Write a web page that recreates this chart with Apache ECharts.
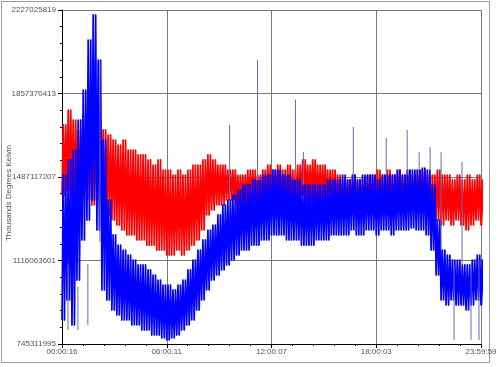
<!DOCTYPE html>
<html><head><meta charset="utf-8">
<script src="https://cdn.jsdelivr.net/npm/echarts@6/dist/echarts.min.js"></script>
<style>html,body{margin:0;padding:0;background:#fff}#c{width:500px;height:367px}</style>
</head><body><div id="c"></div>
<script>
// X axis: seconds of day; Y axis: raw values. Series arrays are in millions.
const xTickLabels = ["00:00:16", "06:00:11", "12:00:07", "18:00:03", "23:59:59"];
const yTickLabels = ["745311995", "1116063601", "1487117207", "1857370413", "2227025819"];
const yTitle = "Thousands Degrees Kelvin";
const xMin = 16, xMax = 86399;
const yMin = 745311995, yMax = 2227025819;
const sampleStart = 16, sampleStep = 1028.37; // one envelope sample per step (seconds)

const redHi = [1717,1783,1739,1695,1761,1739,1717,1739,1695,1672,1650,1628,1650,1606,1606,1584,1584,1562,1539,1562,1517,1517,1495,1517,1495,1517,1539,1539,1562,1584,1562,1539,1539,1517,1517,1495,1495,1517,1517,1495,1517,1539,1517,1539,1517,1539,1517,1539,1562,1539,1562,1539,1539,1517,1517,1495,1473,1473,1495,1473,1473,1495,1495,1517,1495,1517,1495,1517,1495,1517,1495,1517,1517,1495,1495,1517,1495,1495,1473,1495,1473,1495,1473,1495,1473];
const redLo = [1406,1428,1384,1406,1428,1384,1362,1384,1340,1318,1295,1273,1251,1229,1229,1207,1207,1184,1184,1162,1162,1140,1140,1162,1140,1162,1184,1207,1251,1318,1340,1362,1362,1384,1384,1362,1362,1362,1384,1362,1384,1384,1362,1384,1384,1362,1362,1384,1406,1384,1384,1362,1384,1362,1362,1340,1340,1362,1362,1340,1362,1340,1362,1340,1340,1362,1340,1362,1340,1340,1362,1340,1340,1318,1318,1295,1273,1295,1273,1295,1273,1251,1273,1295,1273];
const blueHi = [1495,1562,1606,1739,1872,2094,2205,2005,1650,1384,1229,1184,1162,1140,1118,1096,1096,1074,1051,1029,1007,1007,985,1007,1029,1074,1118,1162,1207,1251,1273,1318,1362,1384,1406,1428,1451,1451,1473,1473,1495,1495,1517,1517,1495,1495,1473,1473,1451,1451,1451,1451,1451,1473,1473,1473,1495,1473,1495,1473,1495,1495,1495,1473,1495,1495,1495,1517,1495,1517,1517,1517,1526,1517,1451,1295,1162,1140,1118,1118,1096,1096,1118,1140,1118];
const blueLo = [852,941,830,1029,1207,1295,1384,1251,985,941,896,874,852,852,830,830,807,807,785,785,772,763,772,785,807,830,852,896,941,985,1029,1051,1074,1096,1118,1140,1162,1162,1184,1184,1207,1207,1229,1229,1229,1207,1207,1207,1184,1184,1184,1207,1207,1207,1229,1229,1229,1229,1251,1229,1229,1251,1251,1229,1251,1251,1229,1251,1251,1251,1260,1251,1251,1229,1162,1051,941,918,941,918,918,896,918,941,918];

// Isolated spikes: time (s), base (millions), tip (millions)
const spikeTimes = [1250, 3300, 5350, 7831, 34569, 40327, 48143, 49788, 60072, 66859, 71178, 73646, 75908, 78171, 82490, 80844, 84341, 85986];
const spikeBase  = [1100, 1000, 1100, 1200, 1400, 1473, 1473, 1451, 1473, 1495, 1495, 1517, 1517, 1162, 1096, 1096, 1096, 1118];
const spikeTip   = [807, 807, 830, 2005, 1717, 2005, 1830, 1597, 1708, 1659, 1695, 1597, 1619, 1597, 1553, 763, 763, 763];

// Each envelope sample is drawn as a fast oscillation between its low and high reading.
const oscPerSample = 2;
function band(lo, hi) {
  const out = [];
  const d = sampleStep / oscPerSample;
  for (let i = 0; i < lo.length; i++) {
    const t = sampleStart + i * sampleStep;
    for (let k = 0; k < oscPerSample; k++) {
      out.push([t + k * d, lo[i] * 1e6]);
      out.push([t + (k + 0.5) * d, hi[i] * 1e6]);
    }
  }
  return out;
}
function spikes() {
  const out = [];
  for (let i = 0; i < spikeTimes.length; i++) {
    out.push([spikeTimes[i], spikeBase[i] * 1e6]);
    out.push([spikeTimes[i], spikeTip[i] * 1e6]);
    out.push('-');
  }
  return out;
}
const xInterval = (xMax - xMin) / 4, yInterval = (yMax - yMin) / 4;
const font = "Liberation Sans";

const chart = echarts.init(document.getElementById('c'), null, {renderer: 'canvas'});
chart.setOption({
  animation: false,
  backgroundColor: '#fff',
  grid: {left: 62, right: 19, top: 10, bottom: 23},
  xAxis: {
    type: 'value', min: xMin, max: xMax, interval: xInterval,
    axisLine: {show: true, lineStyle: {color: '#000', width: 1}},
    axisTick: {show: true, length: 4, lineStyle: {color: '#000'}},
    minorTick: {show: true, splitNumber: 5, length: 2, lineStyle: {color: '#000'}},
    splitLine: {show: true, lineStyle: {color: '#7a7a7a', width: 1}},
    axisLabel: {fontFamily: font, fontSize: 8, color: '#555', margin: 4,
      formatter: v => xTickLabels[Math.round((v - xMin) / xInterval)] || ''}
  },
  yAxis: {
    type: 'value', min: yMin, max: yMax, interval: yInterval,
    axisLine: {show: true, lineStyle: {color: '#000', width: 1}},
    axisTick: {show: true, length: 4, lineStyle: {color: '#000'}},
    minorTick: {show: true, splitNumber: 5, length: 2, lineStyle: {color: '#000'}},
    splitLine: {show: true, lineStyle: {color: '#7a7a7a', width: 1}},
    axisLabel: {fontFamily: font, fontSize: 8, color: '#555', margin: 6,
      formatter: v => yTickLabels[Math.round((v - yMin) / yInterval)] || ''}
  },
  graphic: [
    {type: 'rect', shape: {x: 1.5, y: 1.5, width: 488, height: 361}, style: {fill: null, stroke: '#9a9a9a', lineWidth: 1}, silent: true, z: -1},
    {type: 'text', x: 9, y: 193, rotation: Math.PI / 2, style: {text: yTitle, font: '8px ' + font, fill: '#555', textAlign: 'center', textVerticalAlign: 'middle'}}
  ],
  series: [
    {type: 'line', data: band(redLo, redHi), showSymbol: false, symbol: 'none', sampling: null, lineStyle: {color: '#ff0000', width: 1.7, join: 'round'}, z: 2},
    {type: 'line', data: band(blueLo, blueHi), showSymbol: false, symbol: 'none', sampling: null, lineStyle: {color: '#0000ff', width: 1.7, join: 'round'}, z: 3},
    {type: 'line', data: spikes(), showSymbol: false, symbol: 'none', connectNulls: false, lineStyle: {color: '#6a6ab8', width: 1}, z: 4}
  ]
});
</script></body></html>
